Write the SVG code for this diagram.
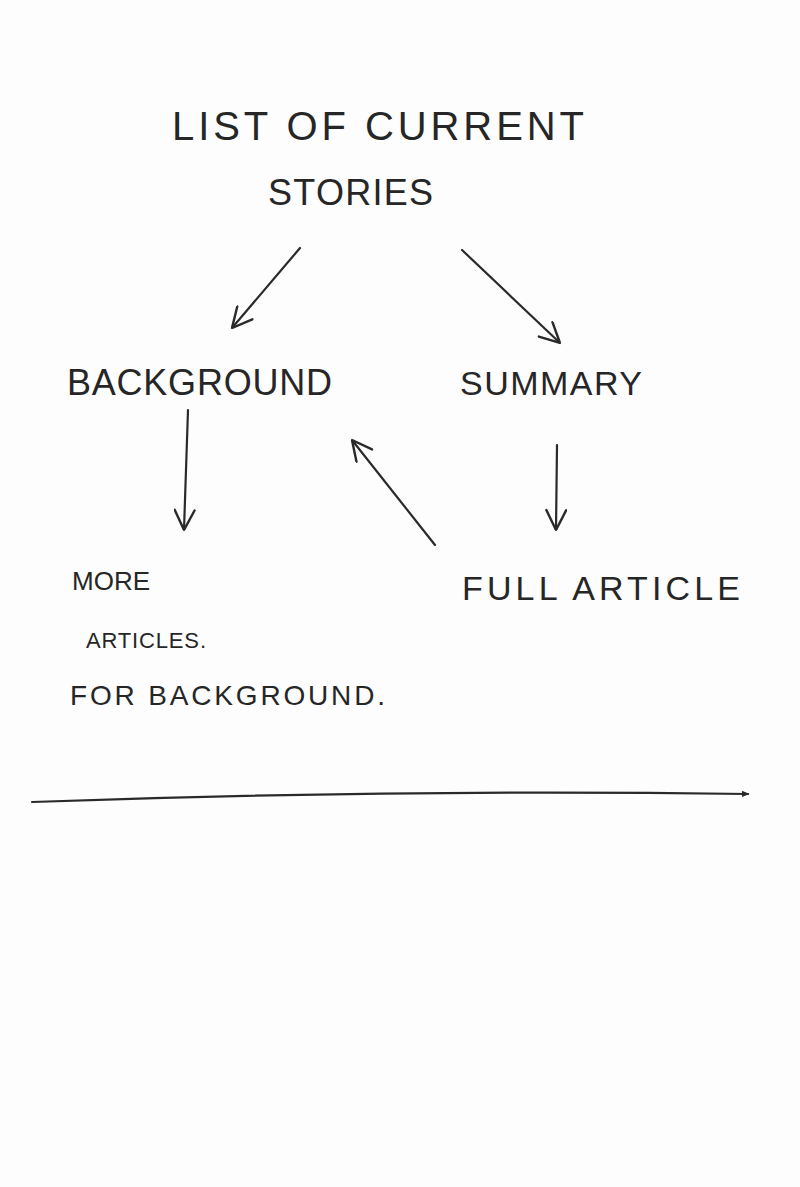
<svg xmlns="http://www.w3.org/2000/svg" width="800" height="1187" viewBox="0 0 800 1187">
<defs>
<style>
.t{font-family:"Liberation Sans",Arial,sans-serif;fill:#262626;}
.c{fill:none;stroke:#2a2a2a;stroke-width:2.2;stroke-linecap:round;}
</style>
<marker id="ah" viewBox="0 0 10 10" refX="10" refY="5" markerWidth="22" markerHeight="22" markerUnits="userSpaceOnUse" orient="auto">
<path d="M1,0.5 L10,5 L1,9.5" fill="none" stroke="#2a2a2a" stroke-width="1.1" stroke-linecap="round"/>
</marker>
<marker id="dot" viewBox="0 0 10 10" refX="8" refY="5" markerWidth="8" markerHeight="8" markerUnits="userSpaceOnUse" orient="auto">
<path d="M0,1 L10,5 L0,9 Z" fill="#2a2a2a"/>
</marker>
</defs>
<rect width="800" height="1187" fill="#fdfdfd"/>
<g id="list"><text class="t" x="172" y="140" font-size="40" textLength="412" lengthAdjust="spacing">LIST OF CURRENT</text>
<text class="t" x="268" y="205" font-size="36" textLength="165" lengthAdjust="spacing">STORIES</text></g>
<g id="background"><text class="t" x="67" y="395" font-size="36" textLength="265" lengthAdjust="spacing">BACKGROUND</text></g>
<g id="summary"><text class="t" x="460" y="395" font-size="34" textLength="182" lengthAdjust="spacing">SUMMARY</text></g>
<g id="more"><text class="t" x="72" y="590" font-size="26" textLength="78" lengthAdjust="spacing">MORE</text>
<text class="t" x="86" y="648" font-size="22" textLength="120" lengthAdjust="spacing">ARTICLES.</text>
<text class="t" x="70" y="705" font-size="28" textLength="315" lengthAdjust="spacing">FOR BACKGROUND.</text></g>
<g id="full"><text class="t" x="462" y="600" font-size="34" textLength="278" lengthAdjust="spacing">FULL ARTICLE</text></g>
<g id="connectors">
<path class="c" d="M300,248 L232,328" marker-end="url(#ah)"/>
<path class="c" d="M462,250 L560,343" marker-end="url(#ah)"/>
<path class="c" d="M188,410 L184,530" marker-end="url(#ah)"/>
<path class="c" d="M557,445 L556,530" marker-end="url(#ah)"/>
<path class="c" d="M435,545 L352,440" marker-end="url(#ah)"/>
<path class="c" d="M32,802 Q390,789 748,794" marker-end="url(#dot)"/>
</g>
</svg>
